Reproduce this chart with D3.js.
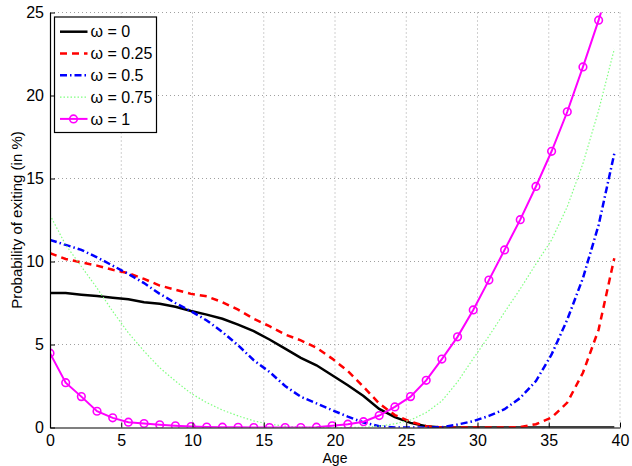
<!DOCTYPE html>
<html>
<head>
<meta charset="utf-8">
<script src="https://cdn.jsdelivr.net/npm/d3@7"></script>
<style>
  body { margin: 0; background: #fff; }
  text { font-family: "Liberation Sans", Arial, sans-serif; }
</style>
</head>
<body>
<div id="chart"></div>
<script>
// ages sampled every 1.1 years (0 .. 39.6)
var ages = d3.range(37).map(function(i) { return +(i * 1.1).toFixed(1); });

var w0 = [8.1, 8.1, 8.0, 7.92, 7.82, 7.72, 7.55, 7.45, 7.27, 7.02, 6.8, 6.55, 6.2, 5.8, 5.3, 4.75,
          4.2, 3.75, 3.15, 2.55, 1.9, 1.12, 0.62, 0.28, 0.07, 0, 0, 0, 0, 0, 0, 0, 0, 0, 0, 0, 0];
var w025 = [10.5, 10.15, 9.95, 9.75, 9.5, 9.3, 8.95, 8.55, 8.3, 8.05, 7.9, 7.55, 7.1, 6.55, 6.1, 5.6,
            5.25, 4.8, 4.15, 3.4, 2.45, 1.45, 0.75, 0.35, 0.08, 0, 0, 0, 0, 0, 0.02, 0.2, 0.6, 1.5, 3.3, 5.9, 10.2];
var w05 = [11.3, 11.0, 10.7, 10.25, 9.75, 9.25, 8.7, 8.05, 7.5, 7.0, 6.45, 5.75, 4.95, 4.05, 3.35, 2.5,
           1.85, 1.45, 1.05, 0.65, 0.3, 0.08, 0, 0, 0, 0.02, 0.18, 0.38, 0.7, 1.1, 1.78, 2.8, 4.4, 6.5, 9.0, 12.2, 16.5];
var w075 = [12.8, 11.0, 9.7, 8.4, 7.0, 5.7, 4.6, 3.6, 2.8, 2.05, 1.5, 1.05, 0.7, 0.4, 0.2, 0.08,
            0.02, 0, 0, 0, 0.02, 0.08, 0.22, 0.45, 0.9, 1.6, 2.75, 4.15, 5.5, 6.95, 8.35, 9.85, 11.3, 13.3, 15.9, 19.1, 22.8];
var w1 = [4.48, 2.7, 1.86, 0.98, 0.58, 0.32, 0.24, 0.16, 0.1, 0.06, 0.03, 0.02, 0.01, 0, 0, 0,
          0, 0.02, 0.1, 0.2, 0.35, 0.72, 1.24, 1.86, 2.84, 4.12, 5.46, 7.08, 8.88, 10.7, 12.52, 14.52, 16.64, 19.02, 21.72, 24.54, 27.6];

var labels = ["\u03c9 = 0", "\u03c9 = 0.25", "\u03c9 = 0.5", "\u03c9 = 0.75", "\u03c9 = 1"];
var xTicks = [0, 5, 10, 15, 20, 25, 30, 35, 40];
var yTicks = [0, 5, 10, 15, 20, 25];

var series = [
  {name: labels[0], values: w0,   color: "#000000", width: 2.5, dash: null},
  {name: labels[1], values: w025, color: "#ff0000", width: 2.5, dash: "7,5"},
  {name: labels[2], values: w05,  color: "#0000ff", width: 2.5, dash: "7,3,1.5,3"},
  {name: labels[3], values: w075, color: "#80ff80", width: 1.2, dash: "1.5,2"},
  {name: labels[4], values: w1,   color: "#ff00ff", width: 2,   dash: null, marker: true}
];

var margin = {top: 12.5, right: 12, bottom: 38.5, left: 50},
    width = 632 - margin.left - margin.right,
    height = 466 - margin.top - margin.bottom;

var xScale = d3.scaleLinear().domain([0, 40]).range([0, width]);
var yScale = d3.scaleLinear().domain([0, 25]).range([height, 0]);

var svg = d3.select("#chart").append("svg")
    .attr("width", 632)
    .attr("height", 466)
    .append("g")
    .attr("transform", "translate(" + margin.left + "," + margin.top + ")");

svg.append("clipPath").attr("id", "clip")
    .append("rect").attr("width", width).attr("height", height);

// dotted grid
var grid = svg.append("g").attr("class", "grid");
grid.selectAll("line.gx").data(xTicks.slice(1)).enter().append("line")
    .attr("x1", function(d) { return xScale(d); }).attr("x2", function(d) { return xScale(d); })
    .attr("y1", 0).attr("y2", height);
grid.selectAll("line.gy").data(yTicks.slice(1)).enter().append("line")
    .attr("y1", function(d) { return yScale(d); }).attr("y2", function(d) { return yScale(d); })
    .attr("x1", 0).attr("x2", width);
grid.selectAll("line")
    .attr("stroke", "#a0a0a0").attr("stroke-width", 1).attr("stroke-dasharray", "1,3");

// curves
var line = d3.line()
    .x(function(d, i) { return xScale(ages[i]); })
    .y(function(d) { return yScale(d); });

var plot = svg.append("g").attr("clip-path", "url(#clip)");
series.forEach(function(s) {
  plot.append("path")
      .datum(s.values)
      .attr("fill", "none")
      .attr("stroke", s.color)
      .attr("stroke-width", s.width)
      .attr("stroke-dasharray", s.dash)
      .attr("d", line);
  if (s.marker) {
    plot.selectAll("circle.m").data(s.values).enter().append("circle")
        .attr("cx", function(d, i) { return xScale(ages[i]); })
        .attr("cy", function(d) { return yScale(d); })
        .attr("r", 3.8)
        .attr("fill", "none")
        .attr("stroke", s.color)
        .attr("stroke-width", 1.6);
  }
});

// axes, ticks pointing inward
var xAxis = d3.axisBottom(xScale).tickValues(xTicks).tickSize(-5).tickPadding(7).tickSizeOuter(0);
var yAxis = d3.axisLeft(yScale).tickValues(yTicks).tickSize(-5).tickPadding(6).tickSizeOuter(0);

var gx = svg.append("g").attr("transform", "translate(0," + height + ")").call(xAxis);
var gy = svg.append("g").call(yAxis);
[gx, gy].forEach(function(g) {
  g.select(".domain").attr("stroke", "#000").attr("stroke-width", 1.2);
  g.selectAll(".tick line").attr("stroke", "#000");
  g.selectAll(".tick text").attr("fill", "#000").style("font-size", "16px")
      .style("font-family", "'Liberation Sans', Arial, sans-serif");
});

svg.append("text")
    .attr("x", width / 2).attr("y", height + 35)
    .attr("text-anchor", "middle")
    .style("font-size", "14px")
    .text("Age");

svg.append("text")
    .attr("transform", "translate(-28," + (height / 2) + ") rotate(-90)")
    .attr("text-anchor", "middle")
    .style("font-size", "15px")
    .text("Probability of exiting (in %)");

// legend
var legend = svg.append("g").attr("transform", "translate(4.5,4.5)");
legend.append("rect")
    .attr("width", 102).attr("height", 115.5)
    .attr("fill", "#fff").attr("stroke", "#000").attr("stroke-width", 1.2);
series.forEach(function(s, i) {
  var y = 14.7 + i * 21.8;
  legend.append("line")
      .attr("x1", 5.5).attr("x2", 33).attr("y1", y).attr("y2", y)
      .attr("stroke", s.color).attr("stroke-width", s.width)
      .attr("stroke-dasharray", s.dash);
  if (s.marker) {
    legend.append("circle").attr("cx", 19).attr("cy", y).attr("r", 3.8)
        .attr("fill", "none").attr("stroke", s.color).attr("stroke-width", 1.6);
  }
  legend.append("text")
      .attr("x", 36).attr("y", y).attr("dy", "0.36em")
      .style("font-size", "16px")
      .text(s.name);
});
</script>
</body>
</html>
